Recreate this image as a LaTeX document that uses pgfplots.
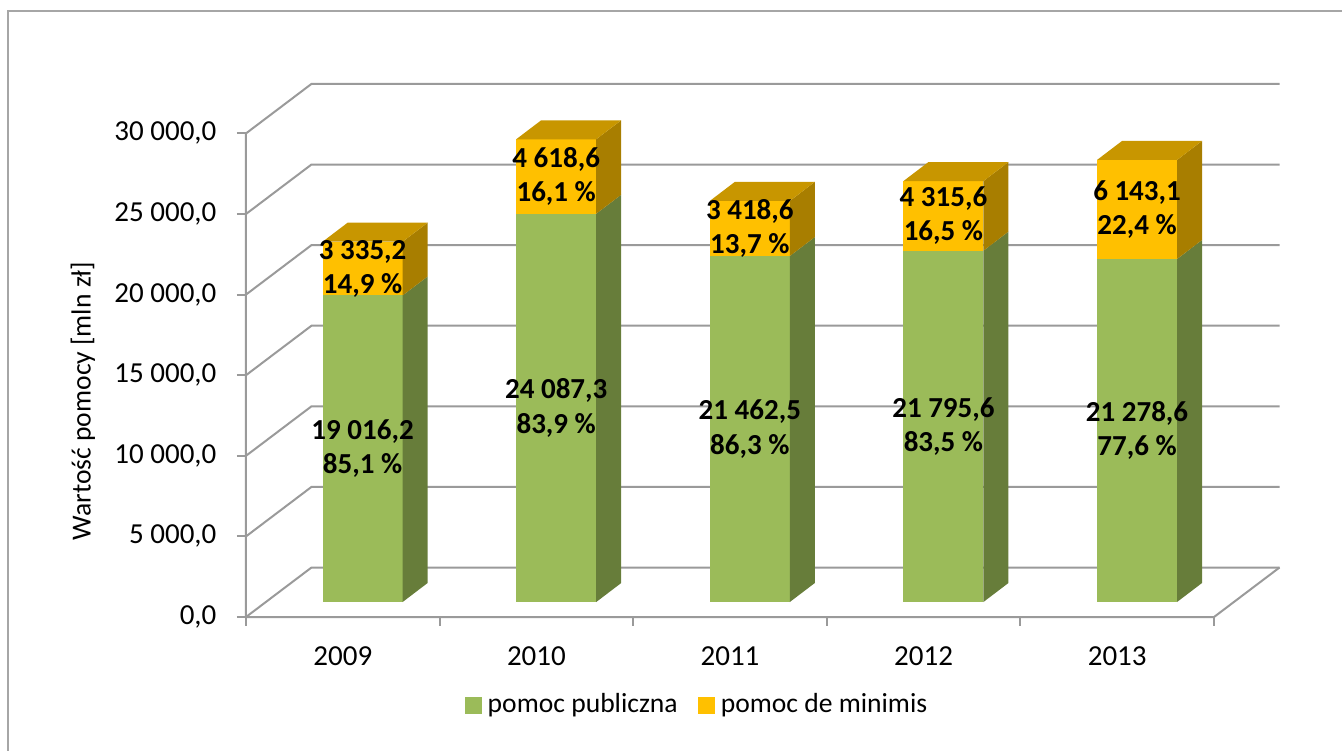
\documentclass[border=0pt]{standalone}
\usepackage{fontspec}
\setmainfont{Carlito}
\usepackage{pgfplots}
\pgfplotsset{compat=1.18}

\definecolor{gfront}{HTML}{9BBB59}
\definecolor{gside}{HTML}{677D3A}
\definecolor{yfront}{HTML}{FFC000}
\definecolor{ytop}{HTML}{C89600}
\definecolor{yside}{HTML}{A87E00}
\definecolor{gridc}{HTML}{9A9A9A}
\definecolor{framec}{HTML}{A6A6A6}

\newcommand{\fs}{\fontsize{13.8}{16.8}\selectfont}
\newcommand{\fl}{\fontsize{14.5}{17.1}\selectfont}

% oblique-projection geometry, in axis units
\def\fox{0.1023}\def\foy{930}   % bar front face offset into depth
\def\hw{0.2066}                 % half bar width
\def\bdx{0.1291}\def\bdy{1179}  % bar depth
\def\ddx{0.3383}\def\ddy{3071}  % full depth of the chart box

\newcommand{\quadp}[9]{\edef\tmp{\noexpand\addplot[fill=#1, draw=none, forget plot] coordinates {(\fpeval{#2},\fpeval{#3}) (\fpeval{#4},\fpeval{#5}) (\fpeval{#6},\fpeval{#7}) (\fpeval{#8},\fpeval{#9})} -- cycle;}\tmp}
\newcommand{\cubebar}[5]{%
  \quadp{#4}{#1+\fox-\hw}{#2+\foy}{#1+\fox+\hw}{#2+\foy}{#1+\fox+\hw}{#3+\foy}{#1+\fox-\hw}{#3+\foy}%
  \quadp{#5}{#1+\fox+\hw}{#2+\foy}{#1+\fox+\hw+\bdx}{#2+\foy+\bdy}{#1+\fox+\hw+\bdx}{#3+\foy+\bdy}{#1+\fox+\hw}{#3+\foy}%
}
\newcommand{\cubetop}[3]{%
  \quadp{#3}{#1+\fox-\hw}{#2+\foy}{#1+\fox+\hw}{#2+\foy}{#1+\fox+\hw+\bdx}{#2+\foy+\bdy}{#1+\fox-\hw+\bdx}{#2+\foy+\bdy}%
}
% #1 category, #2 pomoc publiczna, #3 pomoc de minimis, #4/#5 labels
\newcommand{\stackbar}[5]{%
  \cubebar{#1}{0}{#2}{gfront}{gside}%
  \cubebar{#1}{#2}{#2+#3}{yfront}{yside}%
  \cubetop{#1}{#2+#3}{ytop}%
  \edef\tmp{\noexpand\node[lbl] at (axis cs:\fpeval{#1+\fox},\fpeval{#2/2+\foy}) {\unexpanded{#4}};%
    \noexpand\node[lbl] at (axis cs:\fpeval{#1+\fox},\fpeval{#2+#3/2+\foy}) {\unexpanded{#5}};}\tmp
}
\newcommand{\gridline}[1]{\edef\tmp{\noexpand\draw[gridc, line width=1pt] (axis cs:-0.5,#1) -- (axis cs:\fpeval{-0.5+\ddx},\fpeval{#1+\ddy}) -- (axis cs:\fpeval{4.5+\ddx},\fpeval{#1+\ddy});}\tmp}

\tikzset{lbl/.style={font=\fl\bfseries, align=center, inner sep=0pt, text=black}}

\begin{document}
\fs
\begin{tikzpicture}
\begin{axis}[
  scale only axis, width=532.4pt, height=282.1pt,
  xmin=-0.5, xmax=5, ymin=0, ymax=35000, enlargelimits=false, clip=false,
  scaled y ticks=false,
  axis x line*=bottom, axis y line*=left, axis line style={draw=none},
  xtick={0,1,2,3,4}, xticklabels={2009,2010,2011,2012,2013},
  xtick style={draw=none},
  ytick={0,5000,10000,15000,20000,25000,30000},
  yticklabels={{0,0},{5 000,0},{10 000,0},{15 000,0},{20 000,0},{25 000,0},{30 000,0}},
  ytick style={draw=gridc, line width=1pt},
  tick align=outside, major tick length=4.5pt,
  tick label style={font=\fl, text=black},
  xticklabel style={yshift=-5.5pt},
  yticklabel style={xshift=-5.5pt},
  legend columns=2,
  legend style={draw=none, fill=none, at={(0.4254,-0.156)}, anchor=center,
    font=\fs, nodes={inner ysep=1.5pt, inner xsep=3pt},
    /tikz/every even column/.append style={column sep=7pt}},
  legend image code/.code={\fill[#1] (0pt,-4.25pt) rectangle (8.5pt,4.25pt);},
]
\addlegendimage{fill=gfront, draw=none}
\addlegendentry{pomoc publiczna}
\addlegendimage{fill=yfront, draw=none}
\addlegendentry{pomoc de minimis}

% frame
\draw[framec, line width=1pt] (axis cs:-1.7293,-11352) -- (axis cs:-1.7293,37593) -- (axis cs:5.4607,37593);

% walls and grid
\gridline{0}\gridline{5000}\gridline{10000}\gridline{15000}
\gridline{20000}\gridline{25000}\gridline{30000}
\edef\tmp{\noexpand\draw[gridc, line width=1pt] (axis cs:-0.5,30000) -- (axis cs:-0.5,0) -- (axis cs:4.5,0) -- (axis cs:\fpeval{4.5+\ddx},\ddy);}\tmp
\pgfplotsinvokeforeach{-0.5,0.5,1.5,2.5,3.5,4.5}{\draw[gridc, line width=1pt] (axis cs:#1,0) -- ++(0pt,-4.5pt);}

% bars
\stackbar{0}{19016.2}{3335.2}{19 016,2\\85,1 \%}{3 335,2\\14,9 \%}
\stackbar{1}{24087.3}{4618.6}{24 087,3\\83,9 \%}{4 618,6\\16,1 \%}
\stackbar{2}{21462.5}{3418.6}{21 462,5\\86,3 \%}{3 418,6\\13,7 \%}
\stackbar{3}{21795.6}{4315.6}{21 795,6\\83,5 \%}{4 315,6\\16,5 \%}
\stackbar{4}{21278.6}{6143.1}{21 278,6\\77,6 \%}{6 143,1\\22,4 \%}

\node[rotate=90, font=\fs, text=black] at (axis cs:-1.342,13400) {Wartość pomocy [mln zł]};

\coordinate (BL) at (axis cs:-1.77066,-8250.6);
\coordinate (TR) at (axis cs:5.16116,38275.4);
\end{axis}
\pgfresetboundingbox
\path[use as bounding box] (BL) rectangle (TR);
\end{tikzpicture}
\end{document}
